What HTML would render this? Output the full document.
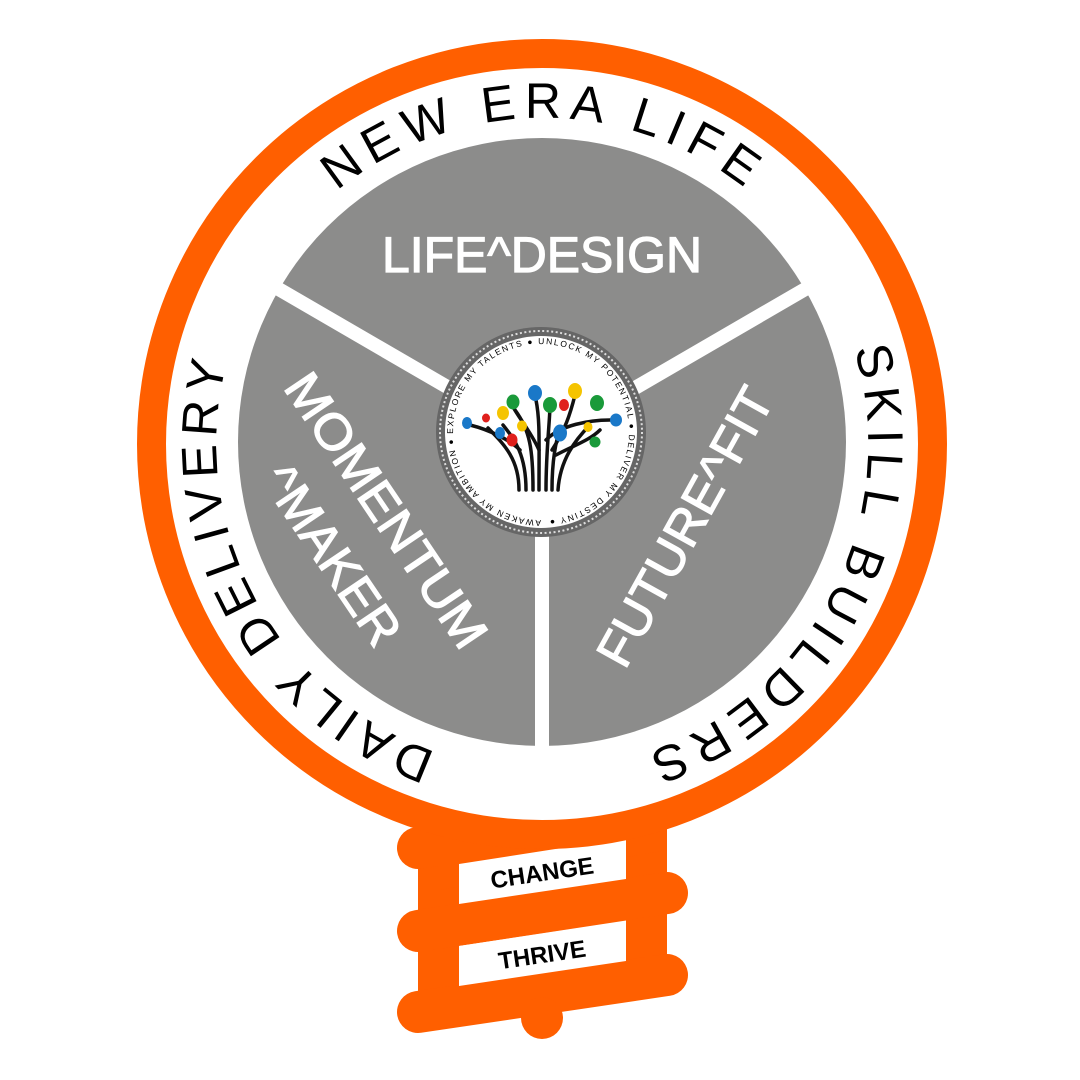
<!DOCTYPE html>
<html><head><meta charset="utf-8"><style>
html,body{margin:0;padding:0;background:#fff;}
svg{display:block;}
</style></head><body>
<svg width="1080" height="1080" viewBox="0 0 1080 1080" xmlns="http://www.w3.org/2000/svg" font-family="Liberation Sans, sans-serif">
<rect width="1080" height="1080" fill="#fff"/>
<!-- ladder -->
<g fill="#ff5f00">
<rect x="418" y="800" width="41" height="210"/>
<rect x="626" y="790" width="41" height="200"/>
</g>
<g stroke="#ff5f00" stroke-width="42" stroke-linecap="round">
<line x1="418" y1="848" x2="600" y2="822"/>
<line x1="418" y1="931" x2="667" y2="893"/>
<line x1="418" y1="1012" x2="667" y2="975"/>
</g>
<circle cx="542" cy="1018" r="21" fill="#ff5f00"/>
<polygon points="440,835 650,800 667,820 667,850 440,890" fill="#ff5f00"/>
<polygon points="459,864 626,838 626,879 459,904" fill="#fff"/>
<polygon points="459,946 626,921 626,961 459,986" fill="#fff"/>
<text x="542" y="881" font-size="24" font-weight="bold" text-anchor="middle" transform="rotate(-8.5 542 872)">CHANGE</text>
<text x="542" y="963" font-size="24" font-weight="bold" text-anchor="middle" transform="rotate(-8.5 542 954)">THRIVE</text>
<!-- main circle -->
<circle cx="542" cy="444" r="390.5" fill="#fff" stroke="#ff5f00" stroke-width="29"/>
<circle cx="542" cy="442" r="304" fill="#8c8c8b"/>
<g stroke="#fff" stroke-width="14">
<line x1="542" y1="442" x2="542" y2="760"/>
<line x1="542" y1="442" x2="270" y2="284"/>
<line x1="542" y1="442" x2="814" y2="284"/>
</g>
<!-- curved labels -->
<defs>
<path id="a1" d="M337,191 A326,326 0 0 1 752,194"/>
<path id="a2" d="M854,349 A326,326 0 0 1 637,756"/>
<path id="a3" d="M436,752 A326,326 0 0 1 229,354"/>
<path id="ic" d="M541,520 A88,88 0 1 1 541.01,520"/>
</defs>
<g font-size="50" fill="#000">
<text><textPath href="#a1" textLength="440" lengthAdjust="spacing">NEW ERA LIFE</textPath></text>
<text><textPath href="#a2" textLength="500" lengthAdjust="spacing">SKILL BUILDERS</textPath></text>
<text><textPath href="#a3" textLength="485" lengthAdjust="spacing">DAILY DELIVERY</textPath></text>
</g>
<!-- sector labels -->
<g fill="#fff" stroke="#fff" stroke-width="1.2" font-size="50" text-anchor="middle">
<text x="542" y="272" textLength="320" lengthAdjust="spacingAndGlyphs">LIFE^DESIGN</text>
<text x="0" y="0" transform="translate(372,520) rotate(56)" textLength="320" lengthAdjust="spacingAndGlyphs">MOMENTUM</text>
<text x="0" y="0" transform="translate(318,565) rotate(56)" textLength="205" lengthAdjust="spacingAndGlyphs">^MAKER</text>
<text x="0" y="0" transform="translate(700,535) rotate(-61)" textLength="310" lengthAdjust="spacingAndGlyphs">FUTURE^FIT</text>
</g>
<!-- medallion -->
<circle cx="541" cy="432" r="105" fill="#666"/>
<circle cx="541" cy="432" r="101" fill="none" stroke="#ddd" stroke-width="2" stroke-dasharray="2 2.5"/>
<circle cx="541" cy="432" r="96" fill="#fff"/>
<text font-size="8.5" fill="#000" letter-spacing="1.2"><textPath href="#ic" textLength="545" lengthAdjust="spacing" startOffset="0">AWAKEN MY AMBITION ● EXPLORE MY TALENTS ● UNLOCK MY POTENTIAL ● DELIVER MY DESTINY ●</textPath></text>
<g stroke="#111" stroke-width="3.5" fill="none" stroke-linecap="round">
<path d="M519,490 C519,460 505,445 488,428"/>
<path d="M526,490 C526,455 515,440 503,425"/>
<path d="M533,490 C533,450 530,430 515,410"/>
<path d="M539,490 C539,440 540,420 536,400"/>
<path d="M546,490 C546,450 550,420 550,405"/>
<path d="M552,490 C552,460 556,440 560,430"/>
<path d="M558,490 C560,460 575,440 590,425"/>
<path d="M539,450 C530,430 520,420 512,405"/>
<path d="M552,450 C565,430 570,415 575,395"/>
<path d="M556,455 C575,445 590,440 600,430"/>
<path d="M520,450 C510,440 490,430 470,425"/>
<path d="M546,440 C560,425 590,420 610,420"/>
</g>
<g>
<ellipse cx="467" cy="423" rx="5" ry="6" fill="#1a78c8"/>
<ellipse cx="486" cy="418" rx="4" ry="4.5" fill="#e0201c"/>
<ellipse cx="500" cy="433" rx="5" ry="6" fill="#1a78c8"/>
<ellipse cx="503" cy="413" rx="6" ry="7" fill="#f5c400"/>
<ellipse cx="512" cy="440" rx="5.5" ry="6.5" fill="#e0201c"/>
<ellipse cx="513" cy="402" rx="6.5" ry="7.5" fill="#1a9a3a"/>
<ellipse cx="522" cy="426" rx="5" ry="5.5" fill="#f5c400"/>
<ellipse cx="535" cy="393" rx="7" ry="8" fill="#1a78c8"/>
<ellipse cx="550" cy="405" rx="7" ry="8" fill="#1a9a3a"/>
<ellipse cx="564" cy="405" rx="5" ry="6" fill="#e0201c"/>
<ellipse cx="575" cy="391" rx="7" ry="8" fill="#f5c400"/>
<ellipse cx="597" cy="403" rx="7" ry="8" fill="#1a9a3a"/>
<ellipse cx="560" cy="433" rx="7" ry="8.5" fill="#1a78c8"/>
<ellipse cx="588" cy="427" rx="4.5" ry="5" fill="#f5c400"/>
<ellipse cx="616" cy="420" rx="6" ry="6.5" fill="#1a78c8"/>
<ellipse cx="595" cy="442" rx="5.5" ry="5.5" fill="#1a9a3a"/>
</g>
</svg>
</body></html>
